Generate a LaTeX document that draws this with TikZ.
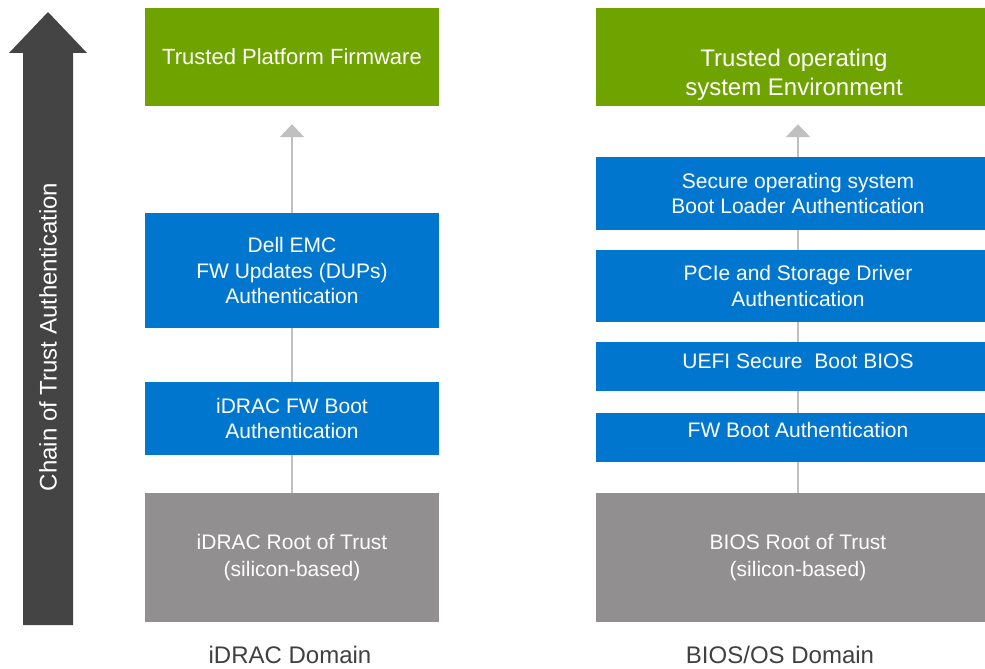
\documentclass[tikz,border=0pt]{standalone}
\usepackage{fontspec}
\setmainfont{Liberation Sans}
\usetikzlibrary{arrows.meta}

\definecolor{trustgreen}{HTML}{6FA300}
\definecolor{dellblue}{HTML}{0076CE}
\definecolor{rootgray}{HTML}{918F90}
\definecolor{chaingray}{HTML}{444444}
\definecolor{linkgray}{HTML}{C0C0C0}
\definecolor{labelgray}{HTML}{404040}

\tikzset{
  boxtext/.style={inner sep=0pt, align=center, text=white, font=\fontsize{21}{25.5}\selectfont},
  box/.style={boxtext, minimum height=#1},
  greenbox/.style={box=#1, fill=trustgreen},
  bluebox/.style={box=#1, fill=dellblue},
  graybox/.style={box=#1, fill=rootgray},
  icol/.style={minimum width=294pt},
  bcol/.style={minimum width=404pt},
  link/.style={draw=linkgray, line width=2.5pt},
  uplink/.style={link, -{Triangle[width=24pt,length=13pt]}, shorten >=18pt},
  domainlabel/.style={text=labelgray, font=\fontsize{24}{28}\selectfont},
}

\begin{document}
\begin{tikzpicture}[x=1pt, y=-1pt]
\path[use as bounding box, clip] (0,0) rectangle (985,669);

% chain of trust arrow
\fill[chaingray] (23,625) -- (23,53) -- (9,53) -- (48,12) -- (87,53) -- (73,53) -- (73,625) -- cycle;
\node[rotate=90, text=white, font=\fontsize{24}{28}\selectfont] (chain) at (48,337) {Chain of Trust Authentication};

% iDRAC domain
\node[greenbox=98pt, icol, font=\fontsize{22}{26}\selectfont] (itop) at (292,57) {Trusted Platform Firmware};
\node[bluebox=115pt, icol] (idup) at (292,270.5) {Dell EMC\\FW Updates (DUPs)\\Authentication};
\node[bluebox=73pt, icol] (iboot) at (292,418.5) {iDRAC FW Boot\\Authentication};
\node[graybox=129pt, icol, font=\fontsize{21}{27}\selectfont] (iroot) at (292,557.5) {iDRAC Root of Trust\\(silicon-based)};
\node[domainlabel] (idomain) at (290,655) {iDRAC Domain};

\draw[link] (iroot) -- (iboot);
\draw[link] (iboot) -- (idup);
\draw[uplink] (idup) -- (itop);

% BIOS/OS domain
\node[greenbox=98pt, bcol] (btop) at (798,57) {};
\node[boxtext, font=\fontsize{24}{29}\selectfont] (btoptext) at (794,75) {Trusted operating\\system Environment};
\node[bluebox=73pt, bcol] (bloader) at (798,193.5) {Secure operating system\\Boot Loader Authentication};
\node[bluebox=72pt, bcol] (bdriver) at (798,286) {PCIe and Storage Driver\\Authentication};
\node[bluebox=49pt, bcol, text depth=11pt] (buefi) at (798,366.5) {UEFI Secure\ \ Boot BIOS};
\node[bluebox=49pt, bcol, text depth=15pt] (bfw) at (798,437.5) {FW Boot Authentication};
\node[graybox=129pt, bcol, font=\fontsize{21}{27}\selectfont] (broot) at (798,557.5) {BIOS Root of Trust\\(silicon-based)};
\node[domainlabel] (bdomain) at (780,655) {BIOS/OS Domain};

\draw[link] (broot) -- (bfw);
\draw[link] (bfw) -- (buefi);
\draw[link] (buefi) -- (bdriver);
\draw[link] (bdriver) -- (bloader);
\draw[uplink] (bloader) -- (btop);
\end{tikzpicture}
\end{document}
